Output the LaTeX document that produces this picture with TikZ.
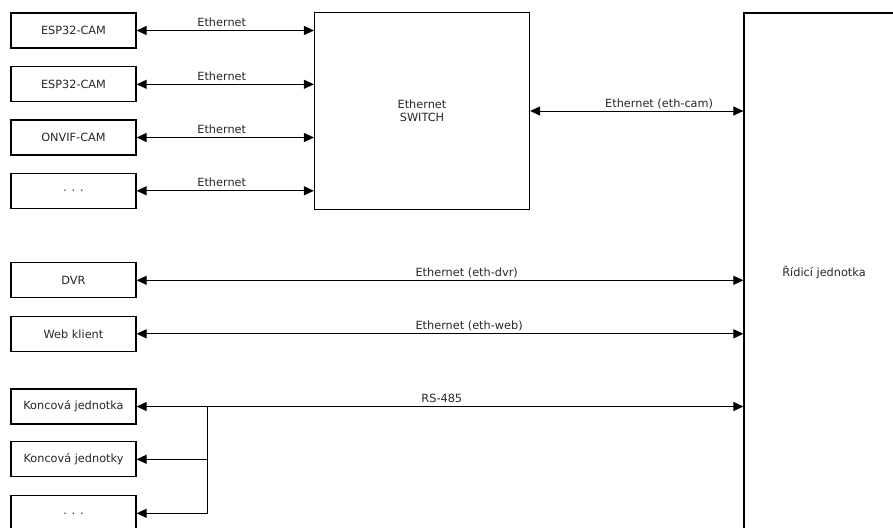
\documentclass[tikz,border=0pt]{standalone}
\usepackage{fontspec}
\setmainfont{DejaVu Sans}
\usetikzlibrary{arrows.meta}
\begin{document}
\begin{tikzpicture}[x=1pt,y=-1pt,
  every node/.style={font=\fontsize{11.3}{13}\selectfont, text=black!85},
  dev/.style={draw=black, line width=1.2pt, minimum width=125pt, minimum height=35pt, inner sep=0pt},
  conn/.style={line width=1pt, {Triangle[length=10pt,width=9pt]}-{Triangle[length=10pt,width=9pt]}},
  toleft/.style={line width=1pt, -{Triangle[length=10pt,width=9pt]}},
  lbl/.style={anchor=base, yshift=4pt, inner sep=0pt}]
\useasboundingbox (0,0) rectangle (893,527);
% devices
\node[dev] (e1) at (73.5,30.5) {ESP32-CAM};
\node[dev] (e2) at (73.5,84.3) {ESP32-CAM};
\node[dev] (e3) at (73.5,137.5) {ONVIF-CAM};
\node[dev] (e4) at (73.5,190.8) {. . .};
\node[dev] (dvr) at (73.5,280.3) {DVR};
\node[dev] (web) at (73.5,333.8) {Web klient};
\node[dev] (k1) at (73.5,406.5) {Koncová jednotka};
\node[dev] (k2) at (73.5,459.3) {Koncová jednotky};
\node[dev] (k3) at (73.5,513.3) {. . .};
% switch
\node[draw=black, line width=1.2pt, minimum width=215pt, minimum height=196.5pt, inner sep=0pt, align=center] (sw) at (422,111) {Ethernet\\SWITCH};
% control unit
\node[draw=black, line width=1.2pt, minimum width=160pt, minimum height=518pt, inner sep=0pt] (ctrl) at (824,272) {Řídicí jednotka};
% camera links
\foreach \n in {e1,e2,e3,e4}{
  \draw[conn] (\n.east) -- node[lbl, pos=0.48] {Ethernet} (\n.east -| sw.west);
}
\draw[conn] (sw.east) -- node[lbl, pos=0.605] {Ethernet (eth-cam)} (sw.east -| ctrl.west);
\draw[conn] (dvr.east) -- node[lbl, pos=0.544] {Ethernet (eth-dvr)} (dvr.east -| ctrl.west);
\draw[conn] (web.east) -- node[lbl, pos=0.548] {Ethernet (eth-web)} (web.east -| ctrl.west);
\draw[conn] (k1.east) -- node[lbl, pos=0.503] {RS-485} (k1.east -| ctrl.west);
% bus branches
\coordinate (bt) at (207.7,406.5);
\draw[line width=1pt] (bt) -- (bt |- k3.east);
\draw[toleft] (bt |- k2.east) -- (k2.east);
\draw[toleft] (bt |- k3.east) -- (k3.east);
\end{tikzpicture}
\end{document}
